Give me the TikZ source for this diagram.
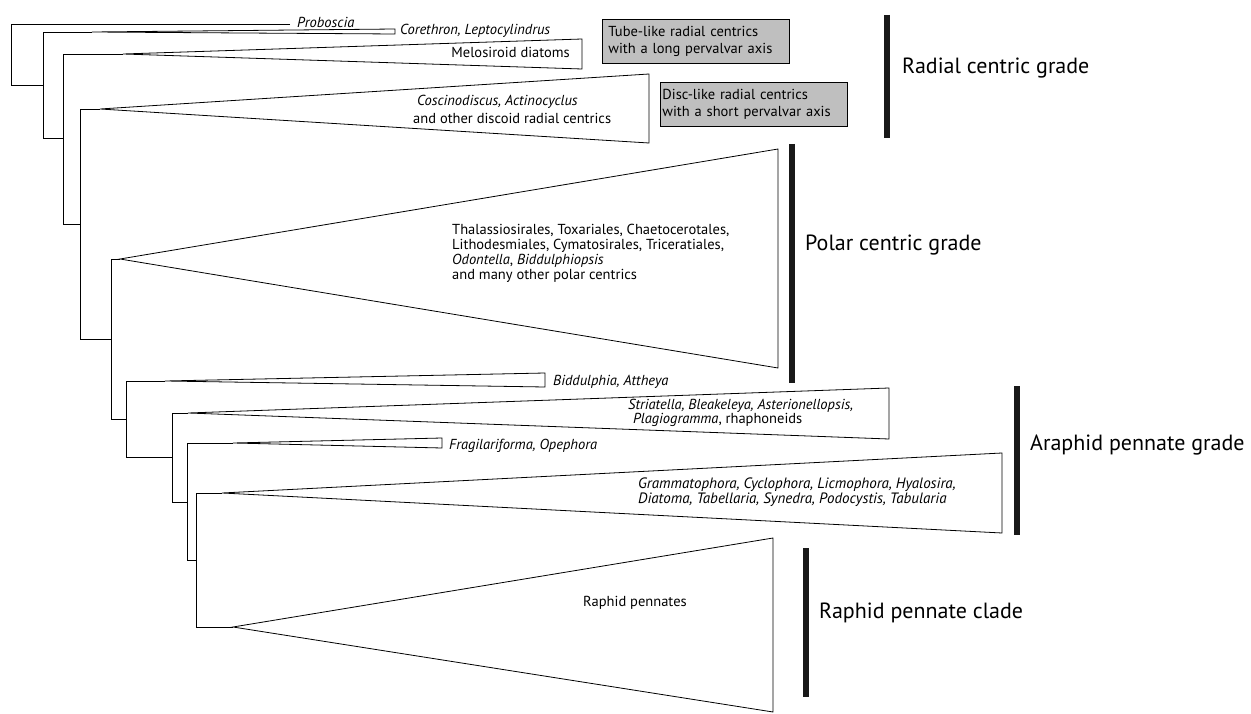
\documentclass[tikz,border=0pt]{standalone}
\usepackage{fontspec}
\setmainfont{PT Sans}
\usepackage{tikz}
\usetikzlibrary{calc}

\begin{document}
\begin{tikzpicture}[x=1pt, y=-1pt,
  branch/.style={draw=black, line width=0.8pt},
  clade/.style={draw=black, line width=0.8pt, fill=white, line join=miter},
  gradebar/.style={draw=black!90, line width=6pt},
  taxon/.style={font=\fontsize{14.5}{15}\selectfont, inner sep=0pt, align=left},
  gradelabel/.style={font=\fontsize{22}{26}\selectfont, inner sep=0pt, anchor=west},
  morphobox/.style={draw=black, fill=black!25, line width=0.8pt, anchor=north west,
    font=\fontsize{14.5}{17}\selectfont, align=left, inner ysep=0pt, minimum height=44pt}]
\useasboundingbox (0,0) rectangle (1251,714);
%頂点%
\coordinate (a0) at (290,24);
\coordinate (a1) at (92,32);
\coordinate (a2) at (123,54);
\coordinate (a3) at (100,109);
\coordinate (a4) at (120,259);
\coordinate (a5) at (165,381);
\coordinate (a6) at (188,413);
\coordinate (a7) at (233,443);
\coordinate (a8) at (222,493);
\coordinate (a9) at (233,627);
%分岐点%
\coordinate (j0) at (11,85);
\coordinate (j1) at (43,138);
\coordinate (j2) at (63,224);
\coordinate (j3) at (80,339);
\coordinate (j4) at (111,419);
\coordinate (j5) at (126,457);
\coordinate (j6) at (172,502);
\coordinate (j7) at (187,560);
\coordinate (j8) at (196,627);
%枝%
\draw[branch] (a0) -| (j0) -- (j0 -| j1);
\draw[branch] (a1) -| (j1) -- (j1 -| j2);
\draw[branch] (a2) -| (j2) -- (j2 -| j3);
\draw[branch] (a3) -| (j3) -- (j3 -| j4);
\draw[branch] (a4) -| (j4) -- (j4 -| j5);
\draw[branch] (a5) -| (j5) -- (j5 -| j6);
\draw[branch] (a6) -| (j6) -- (j6 -| j7);
\draw[branch] (a7) -| (j7) -- (j7 -| j8);
\draw[branch] (a8) -| (j8) -- (a9);
%三角形%
\draw[clade] (a1) -- (395,29) -- (395,34) -- cycle;
\draw[clade] (a2) -- (582,39) -- (582,69) -- cycle;
\draw[clade] (a3) -- (649,74) -- (649,143) -- cycle;
\draw[clade] (a4) -- (778,149) -- (778,368) -- cycle;
\draw[clade] (a5) -- (545,373) -- (545,387) -- cycle;
\draw[clade] (a6) -- (889,388) -- (889,439) -- cycle;
\draw[clade] (a7) -- (442,438) -- (442,448) -- cycle;
\draw[clade] (a8) -- (1002,453) -- (1002,533) -- cycle;
\draw[clade] (a9) -- (773,538) -- (773,712) -- cycle;
%名前%
\node (proboscia) [taxon, anchor=west] at (297,22) {\textit{Proboscia}};
\node (corethron) [taxon, anchor=west] at (400,31) {\textit{Corethron, Leptocylindrus}};
\node (melosira) [taxon, anchor=east] at (570,52) {Melosiroid diatoms};
\node (coscino) [taxon, anchor=west] at (413,109) {\hspace*{4pt}\textit{Coscinodiscus, Actinocyclus}\\[3pt]and other discoid radial centrics};
\node (polar) [taxon, anchor=west] at (452,253) {Thalassiosirales, Toxariales, Chaetocerotales,\\Lithodesmiales, Cymatosirales, Triceratiales,\\\textit{Odontella}, \textit{Biddulphiopsis}\\and many other polar centrics};
\node (biddulphia) [taxon, anchor=west] at (553,382) {\textit{Biddulphia, Attheya}};
\node (striatella) [taxon, anchor=west] at (628,413) {\textit{Striatella, Bleakeleya, Asterionellopsis,}\\[-1pt]\hspace*{5pt}\textit{Plagiogramma}, rhaphoneids};
\node (fragilaria) [taxon, anchor=west] at (449,446) {\textit{Fragilariforma, Opephora}};
\node (gramma) [taxon, anchor=west, font=\fontsize{15}{15}\selectfont] at (638,492) {\textit{Grammatophora, Cyclophora, Licmophora, Hyalosira,}\\\textit{Diatoma, Tabellaria, Synedra, Podocystis, Tabularia}};
\node (raphid) [taxon, anchor=west] at (583,603) {Raphid pennates};
%箱%
\node (tube) [morphobox, inner xsep=6pt, text width=175pt] at (602,19) {Tube-like radial centrics\\with a long pervalvar axis};
\node (disc) [morphobox, inner xsep=2pt, text width=183pt] at (660,82) {Disc-like radial centrics\\with a short pervalvar axis};
%縦線%
\draw[gradebar] (887,15) -- (887,138);
\draw[gradebar] (792,144) -- (792,383);
\draw[gradebar] (1017,386) -- (1017,535);
\draw[gradebar] (806,548) -- (806,697);
%グレード%
\node (radialgrade) [gradelabel] at (902,68) {Radial centric grade};
\node (polargrade) [gradelabel] at (805,245) {Polar centric grade};
\node (araphidgrade) [gradelabel] at (1030,445) {Araphid pennate grade};
\node (raphidgrade) [gradelabel] at (819,613) {Raphid pennate clade};
\end{tikzpicture}
\end{document}
